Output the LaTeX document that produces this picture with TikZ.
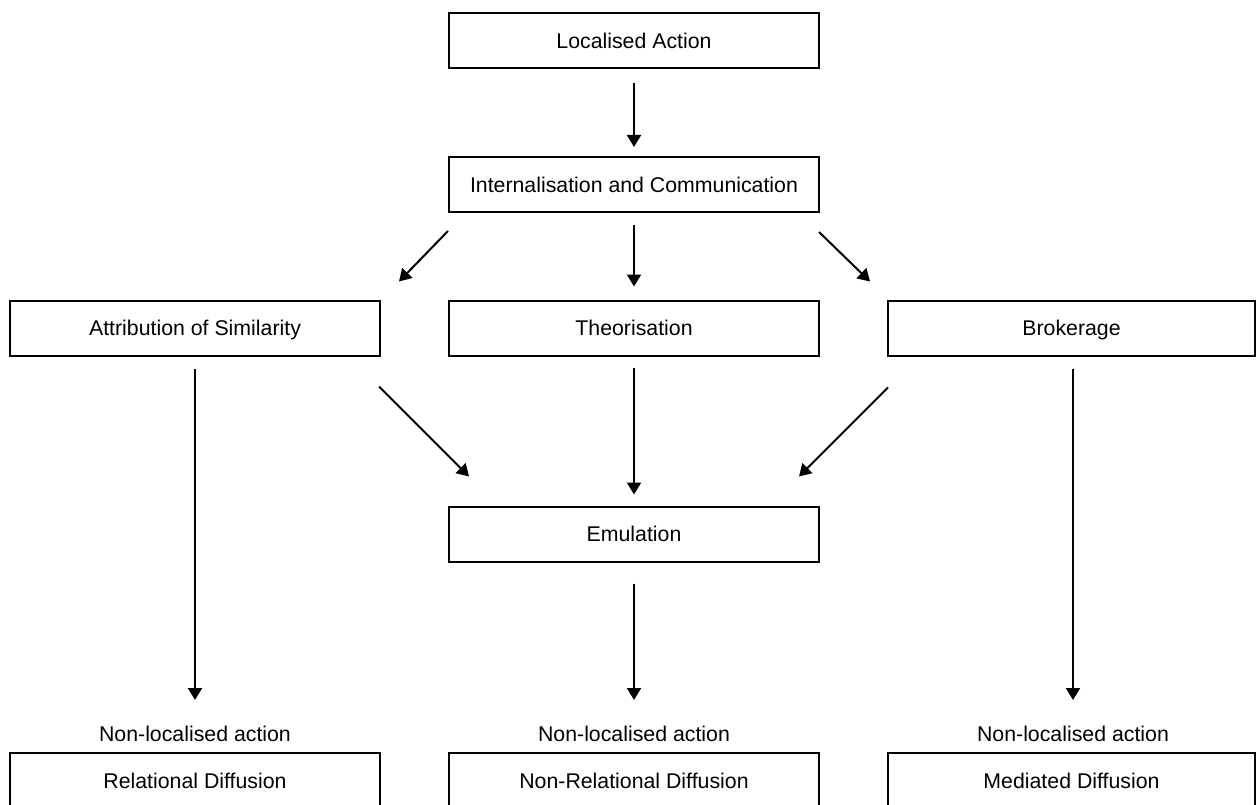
\documentclass[tikz,border=0pt]{standalone}
\usepackage{fontspec}
\setmainfont{Liberation Sans}
\usetikzlibrary{arrows.meta,calc}
\begin{document}
\begin{tikzpicture}[x=1pt,y=1pt,
  box/.style={draw=black,line width=2pt,minimum height=55pt,minimum width=370pt,inner sep=0pt,
    text height=15.3pt,text depth=0pt,font=\fontsize{21.3}{25}\selectfont,anchor=center},
  lbl/.style={inner sep=0pt,anchor=base,font=\fontsize{21.3}{25}\selectfont},
  arr/.style={line width=2pt,-{Triangle[length=12pt,width=14pt]}}]
\useasboundingbox (0,0) rectangle (1256,-805);
\fill[white] (0,0) rectangle (1256,-805);
\clip (0,0) rectangle (1256,-805);
\node[box] (la) at (634,-40.5) {Localised Action};
\node[box] (ic) at (634,-184.5) {Internalisation and Communication};
\node[box] (as) at (195,-328) {Attribution of Similarity};
\node[box] (th) at (634,-328) {Theorisation};
\node[box,minimum width=367pt] (br) at (1071.5,-328) {Brokerage};
\node[box] (em) at (634,-534) {Emulation};
\node[box] (rd) at (195,-780.5) {Relational Diffusion};
\node[box] (nrd) at (634,-780.5) {Non-Relational Diffusion};
\node[box,minimum width=367pt] (md) at (1071.5,-780.5) {Mediated Diffusion};
\node[lbl] (l1) at (195,-741) {Non-localised action};
\node[lbl] (l2) at (634,-741) {Non-localised action};
\node[lbl] (l3) at (1073,-741) {Non-localised action};
\draw[arr] ($(la.south)+(0,-14)$) -- ($(ic.north)+(0,9)$);
\draw[arr] ($(ic.south west)+(0,-18)$) -- ($(as.north east)+(18,18)$);
\draw[arr] ($(ic.south)+(0,-12)$) -- ($(th.north)+(0,13)$);
\draw[arr] ($(ic.south east)+(-1,-19)$) -- ($(br.north west)+(-17,18)$);
\draw[arr] ($(as.south east)+(-2,-30)$) -- ($(em.north west)+(21,29)$);
\draw[arr] ($(th.south)+(0,-11)$) -- ($(em.north)+(0,11)$);
\draw[arr] ($(br.south west)+(1,-31)$) -- ($(em.north east)+(-21,29)$);
\draw[arr] ($(as.south)+(0,-12)$) -- ($(rd.north)+(0,52)$);
\draw[arr] ($(em.south)+(0,-21)$) -- ($(nrd.north)+(0,52)$);
\draw[arr] ($(br.south)+(1.5,-12)$) -- ($(md.north)+(1.5,52)$);
\end{tikzpicture}
\end{document}
